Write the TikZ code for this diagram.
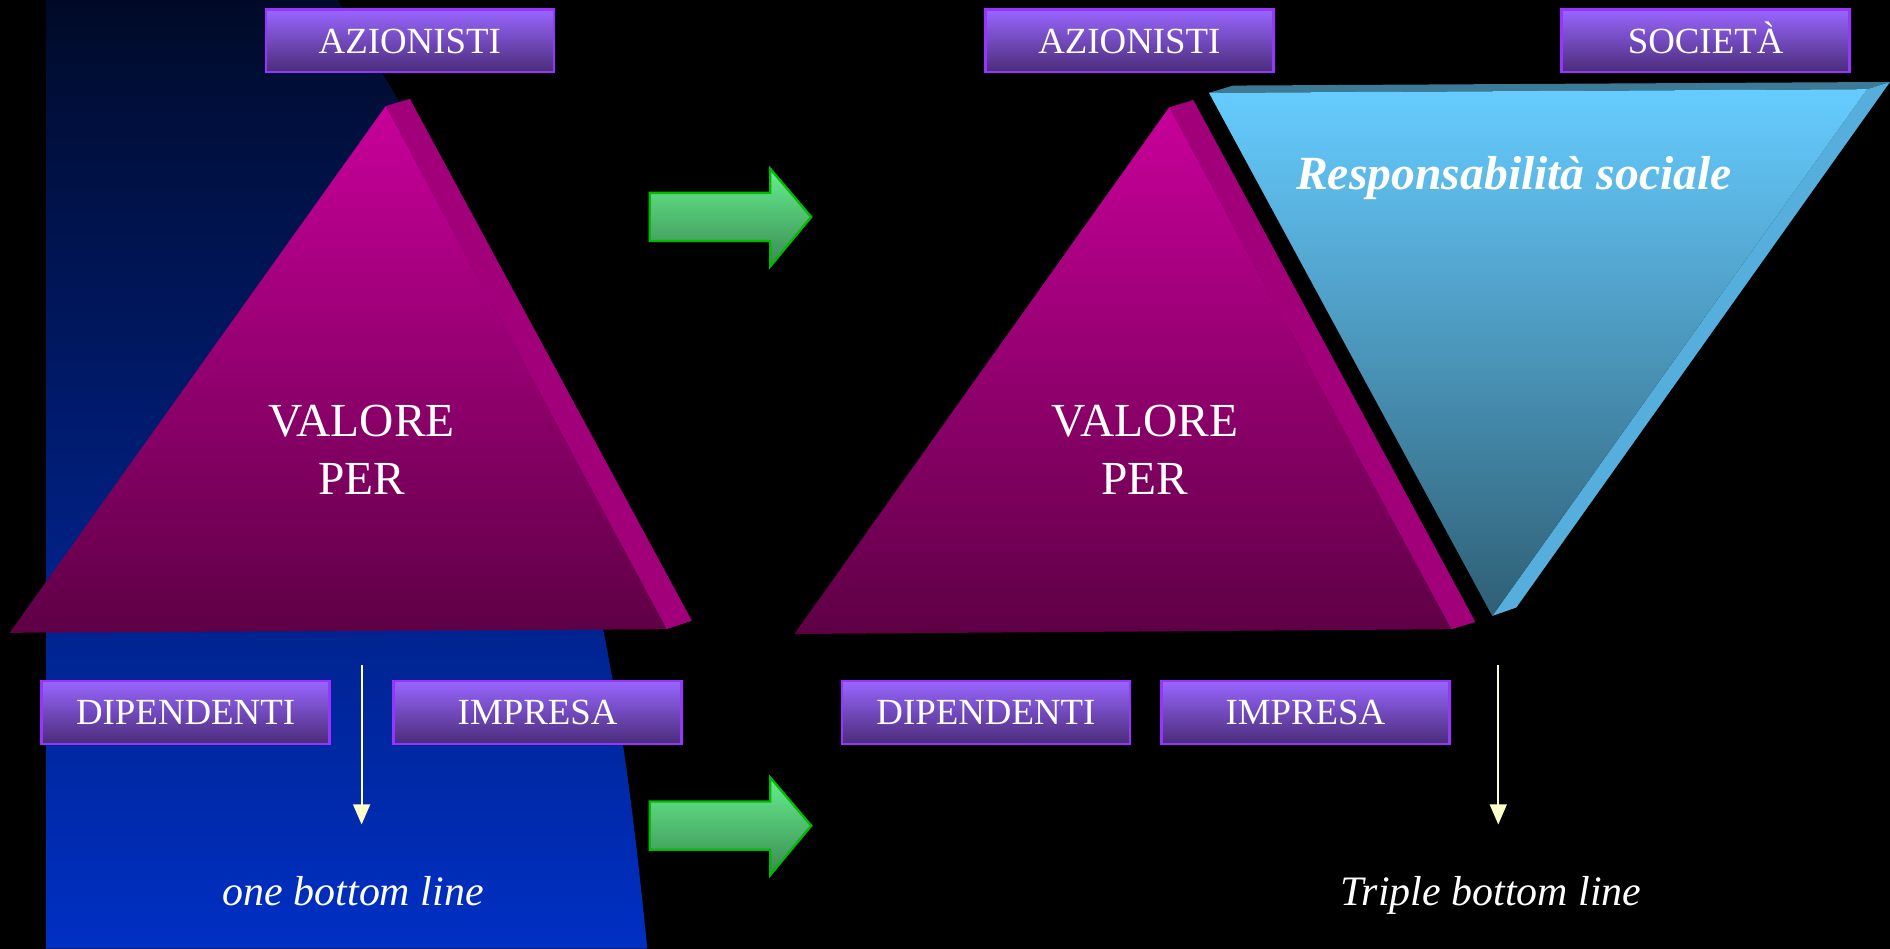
\documentclass[tikz,border=0pt]{standalone}
\usepackage{fontspec}
\setmainfont{Liberation Serif}
\usetikzlibrary{arrows.meta}

\definecolor{boxtop}{HTML}{9966FF}
\definecolor{boxbot}{HTML}{4A2C78}
\definecolor{boxline}{HTML}{9933FF}
\definecolor{magtop}{HTML}{C8009A}
\definecolor{magbot}{HTML}{5E0045}
\definecolor{magside}{HTML}{A2007A}
\definecolor{cyantop}{HTML}{66CCFF}
\definecolor{cyanbot}{HTML}{2F5F75}
\definecolor{cyanlid}{HTML}{3D7A96}
\definecolor{cyanside}{HTML}{55AEDB}
\definecolor{navytop}{HTML}{000A28}
\definecolor{navybot}{HTML}{0030C4}
\definecolor{greentop}{HTML}{66EE8E}
\definecolor{greenbot}{HTML}{3A8A52}
\definecolor{greenline}{HTML}{00BB00}
\definecolor{paleyellow}{HTML}{FFFFCC}

\tikzset{
  lbox/.style={draw=boxline, line width=1.1pt, top color=boxtop, bottom color=boxbot,
    text=white, minimum width=4.78cm, minimum height=1.04cm, inner sep=0pt,
    text height=11.5pt, text depth=0pt,
    font=\fontsize{17.4}{20}\selectfont},
  bigtext/.style={text=white, align=center, inner sep=0pt,
    font=\fontsize{22.4}{27.3}\selectfont},
  linetext/.style={text=white, inner sep=0pt, anchor=base,
    font=\fontsize{19.8}{24}\selectfont\itshape},
  greenarrow/.style={draw=greenline, line width=1.1pt, top color=greentop,
    bottom color=greenbot, line join=miter},
  downarrow/.style={draw=paleyellow, line width=0.85pt,
    -{Triangle[width=8pt,length=9.5pt]}}
}

\begin{document}
\begin{tikzpicture}[x=0.02cm,y=-0.02cm]
\fill[black] (0,0) rectangle (1568,787);
\useasboundingbox (0,0) rectangle (1568,787);
% blue band behind the left picture
\shade[top color=navytop, bottom color=navybot]
  (38,0) -- (280,0) .. controls (470,300) and (507,487) .. (537,787) -- (38,787) -- cycle;
% left pyramid
\fill[magside] (320,88) -- (340,82) -- (574,515) -- (553,522) -- cycle;
\shade[top color=magtop, bottom color=magbot] (320,88) -- (553,522) -- (8,525) -- cycle;
% right pyramid
\fill[magside] (970,89) -- (990,83) -- (1224,516) -- (1204,522) -- cycle;
\shade[top color=magtop, bottom color=magbot] (970,89) -- (1204,522) -- (659,526) -- cycle;
% inverted pyramid
\fill[cyanlid] (1003,77) -- (1023,71) -- (1568,68) -- (1549,74) -- cycle;
\fill[cyanside] (1549,74) -- (1568,68) -- (1258,504) -- (1238,511) -- cycle;
\shade[top color=cyantop, bottom color=cyanbot] (1003,77) -- (1549,74) -- (1238,511) -- cycle;
% green arrows
\draw[greenarrow] (539,160) -- (639,160) -- (639,140) -- (673,180) -- (639,221)
  -- (639,200) -- (539,200) -- cycle;
\draw[greenarrow] (539,665) -- (639,665) -- (639,645) -- (673,685) -- (639,726)
  -- (639,705) -- (539,705) -- cycle;
% labels
\node[lbox] (azL) at (340,34) {AZIONISTI};
\node[lbox] (dipL) at (154,591) {DIPENDENTI};
\node[lbox] (impL) at (446,591) {IMPRESA};
\node[lbox] (azR) at (937,34) {AZIONISTI};
\node[lbox] (socR) at (1415,34) {SOCIETÀ};
\node[lbox] (dipR) at (818,591) {DIPENDENTI};
\node[lbox] (impR) at (1083,591) {IMPRESA};
\node[bigtext] (valL) at (300,373) {VALORE\\PER};
\node[bigtext] (valR) at (950,373) {VALORE\\PER};
\node[text=white, inner sep=0pt, anchor=base, font=\fontsize{22.5}{27}\selectfont\bfseries\itshape]
  (respR) at (1256,157) {Responsabilità sociale};
\node[linetext] (oneL) at (293,751) {one bottom line};
\node[linetext] (tripleR) at (1237,751) {Triple bottom line};
% down arrows
\coordinate (arL1) at (300,552);
\coordinate (arL2) at (300,684);
\coordinate (arR1) at (1243,552);
\coordinate (arR2) at (1243,684);
\draw[downarrow] (arL1) -- (arL2);
\draw[downarrow] (arR1) -- (arR2);
\end{tikzpicture}
\end{document}
